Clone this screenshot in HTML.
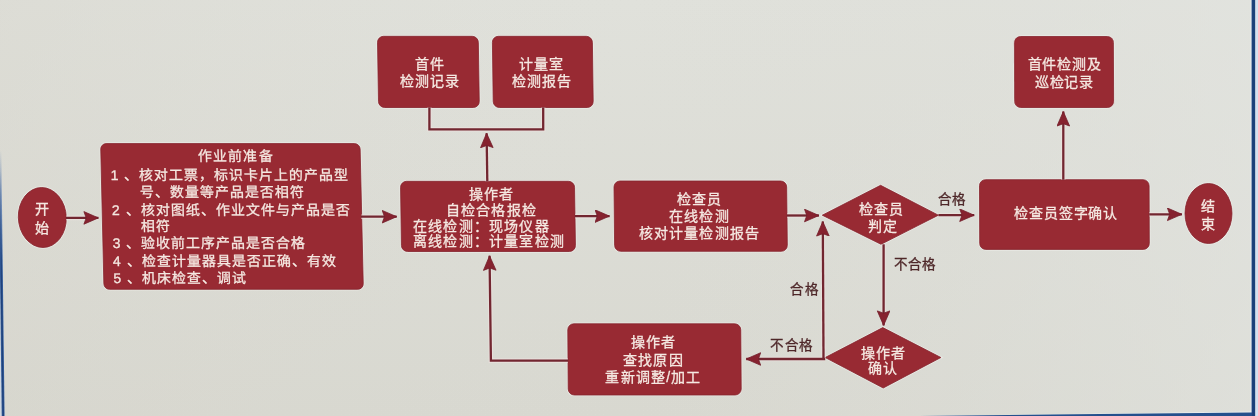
<!DOCTYPE html>
<html lang="zh-CN"><head><meta charset="utf-8">
<style>
html,body{margin:0;padding:0;}
body{width:1258px;height:416px;overflow:hidden;background:#dcdcd6;font-family:"Liberation Sans",sans-serif;}
svg{position:absolute;left:0;top:0;display:block;}
.t{fill:#f5e9e2;stroke:#f5e9e2;stroke-width:0.3px;font-size:14px;letter-spacing:1.2px;font-family:"Liberation Sans",sans-serif;}
.l{fill:#4e2729;stroke:#4e2729;stroke-width:0.3px;font-size:13.5px;letter-spacing:1.3px;font-family:"Liberation Sans",sans-serif;}
</style></head>
<body>
<svg width="1258" height="416" viewBox="0 0 1258 416">
<defs>
<linearGradient id="bgv" x1="0" y1="0" x2="0" y2="1">
<stop offset="0" stop-color="#e0e1db"/>
<stop offset="1" stop-color="#d8d8d0"/>
</linearGradient>
<linearGradient id="bgh" x1="0" y1="0" x2="1" y2="0">
<stop offset="0" stop-color="#d6d4cb" stop-opacity="0.35"/>
<stop offset="0.5" stop-color="#dcdcd6" stop-opacity="0"/>
<stop offset="1" stop-color="#e2e4e0" stop-opacity="0.6"/>
</linearGradient>
<linearGradient id="lb1" gradientUnits="userSpaceOnUse" x1="0" y1="150" x2="0" y2="260">
<stop offset="0" stop-color="#3a64a4" stop-opacity="0"/>
<stop offset="0.4" stop-color="#4a72b0" stop-opacity="0.6"/>
<stop offset="1" stop-color="#3a64a4"/>
</linearGradient>
<linearGradient id="lb2" gradientUnits="userSpaceOnUse" x1="0" y1="170" x2="0" y2="280">
<stop offset="0" stop-color="#1f427c" stop-opacity="0"/>
<stop offset="1" stop-color="#1f427c"/>
</linearGradient>
<marker id="ah" markerWidth="16" markerHeight="14" refX="15" refY="6.6" orient="auto" markerUnits="userSpaceOnUse">
<path d="M0.5,0.3 L15,6.6 L0.5,12.9 L2.8,6.6 Z" fill="#86222f" stroke="#74202c" stroke-width="0.8" stroke-linejoin="round"/>
</marker>
</defs>
<rect x="0" y="0" width="1258" height="416" fill="url(#bgv)"/>
<rect x="0" y="0" width="1258" height="416" fill="url(#bgh)"/>
<g fill="none" stroke="#eeeeea" stroke-width="2.5" opacity="0.7">
<ellipse cx="42.3" cy="217.5" rx="24" ry="30" transform="translate(42.30 217.50) skewX(1.323) translate(-42.30 -217.50)"/>
<rect x="102.3" y="143.6" width="259.4" height="145.7" rx="5.5" transform="translate(232.00 216.45) skewX(1.318) translate(-232.00 -216.45)"/>
<rect x="401" y="181.3" width="174" height="70.2" rx="6" transform="translate(488.00 216.40) skewX(0.836) translate(-488.00 -216.40)"/>
<rect x="378" y="36.3" width="100.8" height="71.2" rx="6" transform="translate(428.40 71.90) skewX(0.901) translate(-428.40 -71.90)"/>
<rect x="492.8" y="36.3" width="100.0" height="71.2" rx="6" transform="translate(542.80 71.90) skewX(0.776) translate(-542.80 -71.90)"/>
<rect x="614.3" y="181" width="172.7" height="70.3" rx="6" transform="translate(700.65 216.15) skewX(0.603) translate(-700.65 -216.15)"/>
<path d="M822.3,215.2 L880.8,185.3 L938.4,215.2 L880.8,244.3 Z" transform="translate(880.80 215.20) skewX(0.406) translate(-880.80 -215.20)"/>
<rect x="979.6" y="179.7" width="169.6" height="69.7" rx="6" transform="translate(1064.40 214.55) skewX(0.205) translate(-1064.40 -214.55)"/>
<rect x="1014.6" y="36.5" width="98.9" height="71.0" rx="6" transform="translate(1064.05 72.00) skewX(0.206) translate(-1064.05 -72.00)"/>
<ellipse cx="1208.5" cy="213.5" rx="23.5" ry="30" transform="translate(1208.50 213.50) skewX(0.048) translate(-1208.50 -213.50)"/>
<rect x="568" y="323.8" width="173" height="71.2" rx="6" transform="translate(654.50 359.40) skewX(0.401) translate(-654.50 -359.40)"/>
<path d="M825.2,357.5 L883,327.6 L940.9,357.5 L883,388 Z" transform="translate(883.00 357.50) skewX(0.404) translate(-883.00 -357.50)"/>
</g>
<g fill="#982a33" stroke="#86232d" stroke-width="0.8">
<ellipse cx="42.3" cy="217.5" rx="24" ry="30" transform="translate(42.30 217.50) skewX(1.323) translate(-42.30 -217.50)"/>
<rect x="102.3" y="143.6" width="259.4" height="145.7" rx="5.5" transform="translate(232.00 216.45) skewX(1.318) translate(-232.00 -216.45)"/>
<rect x="401" y="181.3" width="174" height="70.2" rx="6" transform="translate(488.00 216.40) skewX(0.836) translate(-488.00 -216.40)"/>
<rect x="378" y="36.3" width="100.8" height="71.2" rx="6" transform="translate(428.40 71.90) skewX(0.901) translate(-428.40 -71.90)"/>
<rect x="492.8" y="36.3" width="100.0" height="71.2" rx="6" transform="translate(542.80 71.90) skewX(0.776) translate(-542.80 -71.90)"/>
<rect x="614.3" y="181" width="172.7" height="70.3" rx="6" transform="translate(700.65 216.15) skewX(0.603) translate(-700.65 -216.15)"/>
<path d="M822.3,215.2 L880.8,185.3 L938.4,215.2 L880.8,244.3 Z" transform="translate(880.80 215.20) skewX(0.406) translate(-880.80 -215.20)"/>
<rect x="979.6" y="179.7" width="169.6" height="69.7" rx="6" transform="translate(1064.40 214.55) skewX(0.205) translate(-1064.40 -214.55)"/>
<rect x="1014.6" y="36.5" width="98.9" height="71.0" rx="6" transform="translate(1064.05 72.00) skewX(0.206) translate(-1064.05 -72.00)"/>
<ellipse cx="1208.5" cy="213.5" rx="23.5" ry="30" transform="translate(1208.50 213.50) skewX(0.048) translate(-1208.50 -213.50)"/>
<rect x="568" y="323.8" width="173" height="71.2" rx="6" transform="translate(654.50 359.40) skewX(0.401) translate(-654.50 -359.40)"/>
<path d="M825.2,357.5 L883,327.6 L940.9,357.5 L883,388 Z" transform="translate(883.00 357.50) skewX(0.404) translate(-883.00 -357.50)"/>
</g>
<g stroke="#f1e3e1" stroke-width="4.6" fill="none" opacity="0.55">
<polyline points="66,217.9 98.4,217.9"/>
<polyline points="361,216.7 396.7,216.7"/>
<polyline points="487.3,181.3 486.6,133.2"/>
<polyline points="429.4,107.5 429.4,129.3 543.2,129.3 543.2,107.5"/>
<polyline points="575,216.1 609.5,216.1"/>
<polyline points="787,215.5 819,215.5"/>
<polyline points="938.4,215.2 974.2,215.2"/>
<polyline points="883.6,244.3 883.6,325.4"/>
<polyline points="1063.3,179.7 1063.3,111.5"/>
<polyline points="1149.2,214.3 1181.9,214.3"/>
<polyline points="823.5,358.5 822.8,221.5"/>
<polyline points="825.2,359 746.2,359"/>
<polyline points="568,360.6 490.9,360.6 489.55,255.8"/>
</g>
<g stroke="#722630" stroke-width="2.3" fill="none">
<polyline points="66,217.9 98.4,217.9" marker-end="url(#ah)"/>
<polyline points="361,216.7 396.7,216.7" marker-end="url(#ah)"/>
<polyline points="487.3,181.3 486.6,133.2" marker-end="url(#ah)"/>
<polyline points="429.4,107.5 429.4,129.3 543.2,129.3 543.2,107.5"/>
<polyline points="575,216.1 609.5,216.1" marker-end="url(#ah)"/>
<polyline points="787,215.5 819,215.5" marker-end="url(#ah)"/>
<polyline points="938.4,215.2 974.2,215.2" marker-end="url(#ah)"/>
<polyline points="883.6,244.3 883.6,325.4" marker-end="url(#ah)"/>
<polyline points="1063.3,179.7 1063.3,111.5" marker-end="url(#ah)"/>
<polyline points="1149.2,214.3 1181.9,214.3" marker-end="url(#ah)"/>
<polyline points="823.5,358.5 822.8,221.5" marker-end="url(#ah)"/>
<polyline points="825.2,359 746.2,359" marker-end="url(#ah)"/>
<polyline points="568,360.6 490.9,360.6 489.55,255.8" marker-end="url(#ah)"/>
</g>
<text x="42.3" y="213.7" class="t" text-anchor="middle">开</text>
<text x="42.3" y="233.2" class="t" text-anchor="middle">始</text>
<g transform="translate(232.00 216.50) skewX(1.318) translate(-232.00 -216.50)">
<text x="237" y="161.5" class="t" text-anchor="middle">作业前准备</text>
<text x="111.6" y="180.1" class="t" text-anchor="start" style="letter-spacing:1px">1 、核对工票，标识卡片上的产品型</text>
<text x="140" y="197.2" class="t" text-anchor="start" style="letter-spacing:1px">号、数量等产品是否相符</text>
<text x="112" y="214.89999999999998" class="t" text-anchor="start" style="letter-spacing:1px">2 、核对图纸、作业文件与产品是否</text>
<text x="141" y="231.2" class="t" text-anchor="start" style="letter-spacing:1px">相符</text>
<text x="112" y="248.2" class="t" text-anchor="start" style="letter-spacing:1px">3 、验收前工序产品是否合格</text>
<text x="112" y="265.9" class="t" text-anchor="start" style="letter-spacing:1px">4 、检查计量器具是否正确、有效</text>
<text x="112" y="283.09999999999997" class="t" text-anchor="start" style="letter-spacing:1px">5 、机床检查、调试</text>
</g>
<text x="491.5" y="198.79999999999998" class="t" text-anchor="middle">操作者</text>
<text x="491.5" y="215.2" class="t" text-anchor="middle">自检合格报检</text>
<text x="413" y="231.2" class="t" text-anchor="start">在线检测：现场仪器</text>
<text x="413" y="246.0" class="t" text-anchor="start">离线检测：计量室检测</text>
<text x="430" y="69.0" class="t" text-anchor="middle">首件</text>
<text x="430" y="86.2" class="t" text-anchor="middle">检测记录</text>
<text x="541.5" y="69.0" class="t" text-anchor="middle">计量室</text>
<text x="542" y="86.2" class="t" text-anchor="middle">检测报告</text>
<text x="699.5" y="204.2" class="t" text-anchor="middle">检查员</text>
<text x="699.5" y="221.0" class="t" text-anchor="middle">在线检测</text>
<text x="699.5" y="237.89999999999998" class="t" text-anchor="middle">核对计量检测报告</text>
<text x="881.5" y="214.0" class="t" text-anchor="middle">检查员</text>
<text x="883" y="230.79999999999998" class="t" text-anchor="middle">判定</text>
<text x="1066.3" y="217.89999999999998" class="t" text-anchor="middle" style="letter-spacing:0.8px">检查员签字确认</text>
<text x="1064.5" y="68.7" class="t" text-anchor="middle" style="letter-spacing:0.8px">首件检测及</text>
<text x="1064.5" y="87.2" class="t" text-anchor="middle" style="letter-spacing:0.8px">巡检记录</text>
<text x="1209" y="210.89999999999998" class="t" text-anchor="middle">结</text>
<text x="1209" y="229.2" class="t" text-anchor="middle">束</text>
<text x="653.5" y="347.2" class="t" text-anchor="middle">操作者</text>
<text x="653.5" y="364.8" class="t" text-anchor="middle">查找原因</text>
<text x="653.5" y="382.2" class="t" text-anchor="middle">重新调整/加工</text>
<text x="883.5" y="357.5" class="t" text-anchor="middle">操作者</text>
<text x="883.5" y="373.2" class="t" text-anchor="middle">确认</text>
<text x="952" y="203.79999999999998" class="l" text-anchor="middle">合格</text>
<text x="915" y="269.0" class="l" text-anchor="middle">不合格</text>
<text x="804.8" y="294.0" class="l" text-anchor="middle">合格</text>
<text x="791.9" y="349.8" class="l" text-anchor="middle">不合格</text>
<path d="M1250.6,0 L1251.6,0 L1251.6,416 L1250.6,416 Z" fill="#e8eef4" opacity="0.8"/>
<path d="M920,416 L1252,411.6 L1252,412.4 L920,416.8 Z" fill="#eef2f6" opacity="0.8"/>
<path d="M920,416 L1252,412.4 L1252,416 Z" fill="#244f8c"/>
<path d="M1251.6,0 L1255.4,0 L1255.4,416 L1251.6,416 Z" fill="#234b88"/>
<path d="M1252.2,0 L1254.8,0 L1254.8,416 L1252.2,416 Z" fill="#1b3f78"/>
<path d="M1255.4,0 L1258,0 L1258,416 L1255.4,416 Z" fill="#d3e0ef"/>
<path d="M0,140 L0,416 L1.6,416 L-1.5,165 Z" fill="#cdd6e2" opacity="0.9"/>
<path d="M-1.5,150 L1.3,150 L4.6,416 L1.7,416 Z" fill="url(#lb1)"/>
<path d="M-0.8,165 L0.7,165 L4.0,416 L2.4,416 Z" fill="url(#lb2)"/>
</svg>
</body></html>
